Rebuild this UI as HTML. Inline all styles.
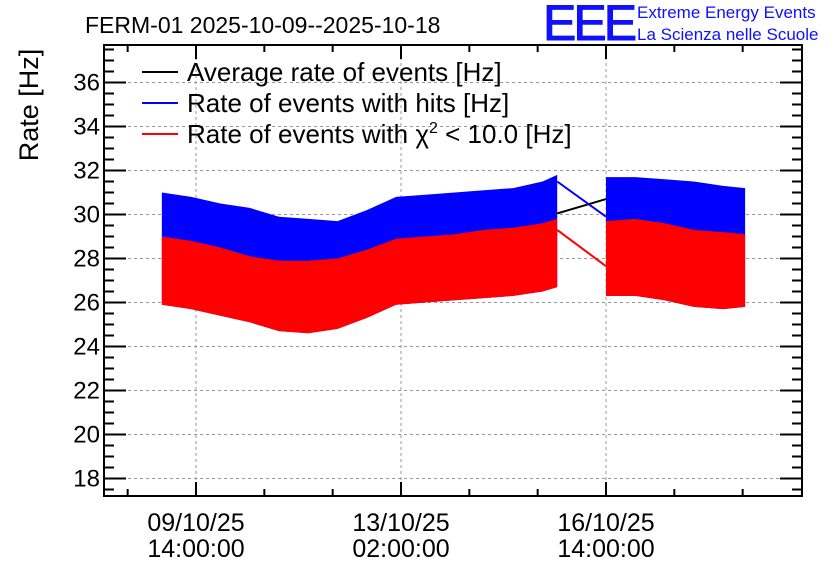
<!DOCTYPE html>
<html><head><meta charset="utf-8"><style>
body{margin:0;background:#fff;}
svg{display:block;font-family:"Liberation Sans",sans-serif;}
</style></head><body>
<svg id="c" width="836" height="572" viewBox="0 0 836 572">
<text x="85" y="33" font-size="23">FERM-01 2025-10-09--2025-10-18</text>
<text x="543" y="40" font-size="50" fill="#1010ff" stroke="#1010ff" stroke-width="1" letter-spacing="-3">EEE</text>
<text x="637" y="18" font-size="17" fill="#1010ff">Extreme Energy Events</text>
<text x="637" y="40" font-size="17" fill="#1010ff">La Scienza nelle Scuole</text>
<text transform="translate(38,105) rotate(-90)" text-anchor="middle" font-size="27">Rate [Hz]</text>
<g id="grid"></g><g id="data"></g><g id="axes"></g>
<g>
<line x1="142" y1="72" x2="178" y2="72" stroke="#000" stroke-width="2"/>
<text x="187" y="81" font-size="26">Average rate of events [Hz]</text>
<line x1="142" y1="103" x2="178" y2="103" stroke="#0000ff" stroke-width="2"/>
<text x="187" y="112" font-size="26">Rate of events with hits [Hz]</text>
<line x1="142" y1="134" x2="178" y2="134" stroke="#ff0000" stroke-width="2"/>
<text x="187" y="143" font-size="26">Rate of events with χ<tspan dy="-10" font-size="16">2</tspan><tspan dy="10"> &lt; 10.0 [Hz]</tspan></text>
</g>
</svg>
<script>
const t1=[-14,-2,10,22,34,46,58,70,82,94,106,118,130,142,148];
const blueHi1=[31.0,30.8,30.5,30.3,29.9,29.8,29.7,30.2,30.8,30.9,31.0,31.1,31.2,31.5,31.8];
const redHi1=[29.0,28.8,28.5,28.1,27.9,27.9,28.0,28.4,28.9,29.0,29.1,29.3,29.4,29.6,29.8];
const redLo1=[25.9,25.7,25.4,25.1,24.7,24.6,24.8,25.3,25.9,26.0,26.1,26.2,26.3,26.5,26.7];
const t2=[168,180,192,204,216,225];
const blueHi2=[31.7,31.7,31.6,31.5,31.3,31.2];
const redHi2=[29.7,29.8,29.6,29.3,29.2,29.1];
const redLo2=[26.3,26.3,26.1,25.8,25.7,25.8];
const gapT=[148,168];
const blueGap=[31.5,29.9];
const redGap=[29.3,27.65];
const avgGap=[30.05,30.7];
const yTicks=[18,20,22,24,26,28,30,32,34,36];
const xTicks=[0,84,168];
const xLab1=["09/10/25","13/10/25","16/10/25"];
const xLab2=["14:00:00","02:00:00","14:00:00"];
const L=104,R=802,T=45,B=496;
const X=t=>196+t*205/84;
const Y=v=>478.5-22*(v-18);
const NS='http://www.w3.org/2000/svg';
function mk(p,tag,a){const e=document.createElementNS(NS,tag);for(const k in a)e.setAttribute(k,a[k]);document.getElementById(p).appendChild(e);return e;}
yTicks.forEach(v=>{const e=mk('grid','line',{x1:L,x2:R,y1:Y(v),y2:Y(v),stroke:'#999','stroke-dasharray':'3,3'});

});
xTicks.forEach(t=>{const e=mk('grid','line',{x1:X(t),x2:X(t),y1:T,y2:B,stroke:'#999','stroke-dasharray':'3,3'});

});
function band(ts,hi,lo,col,name){
 let pts=ts.map((t,i)=>X(t)+','+Y(hi[i]));
 for(let i=ts.length-1;i>=0;i--)pts.push(X(ts[i])+','+Y(lo[i]));
 const e=mk('data','polygon',{points:pts.join(' '),fill:col});
 
 
}
function gline(ts,vs,col,name){
 const e=mk('data','polyline',{points:ts.map((t,i)=>X(t)+','+Y(vs[i])).join(' '),fill:'none',stroke:col,'stroke-width':2});
 
 
}
gline(gapT,avgGap,'#000','avg-gap-line');
gline(gapT,blueGap,'#0000ff','hits-gap-line');
gline(gapT,redGap,'#ff0000','chi2-gap-line');
band(t1,blueHi1,redLo1,'#0000ff','hits-band-1');
band(t2,blueHi2,redLo2,'#0000ff','hits-band-2');
band(t1,redHi1,redLo1,'#ff0000','chi2-band-1');
band(t2,redHi2,redLo2,'#ff0000','chi2-band-2');
const fr=mk('axes','rect',{x:L,y:T,width:R-L,height:B-T,fill:'none',stroke:'#000','stroke-width':2});


for(let v=17.5;v<=38;v+=0.5){const y=Y(v);if(y<T||y>B)continue;const maj=(v%2===0);const len=maj?22:10;
 mk('axes','line',{x1:L,x2:L+len,y1:y,y2:y,stroke:'#000','stroke-width':2});
 mk('axes','line',{x1:R,x2:R-len,y1:y,y2:y,stroke:'#000','stroke-width':2});}
yTicks.forEach(v=>{const e=mk('axes','text',{x:100,y:Y(v)+8,'text-anchor':'end','font-size':24});e.textContent=v;

});
for(let t=-28;t<=252;t+=28){const x=X(t);if(x<L||x>R)continue;const maj=(t%84===0);const len=maj?14:7;
 mk('axes','line',{x1:x,x2:x,y1:B,y2:B-len,stroke:'#000','stroke-width':2});
 mk('axes','line',{x1:x,x2:x,y1:T,y2:T+len,stroke:'#000','stroke-width':2});}
xTicks.forEach((t,i)=>{const a=mk('axes','text',{x:X(t),y:531,'text-anchor':'middle','font-size':25});a.textContent=xLab1[i];


const b=mk('axes','text',{x:X(t),y:557,'text-anchor':'middle','font-size':25});b.textContent=xLab2[i];

});
</script>
</body></html>
